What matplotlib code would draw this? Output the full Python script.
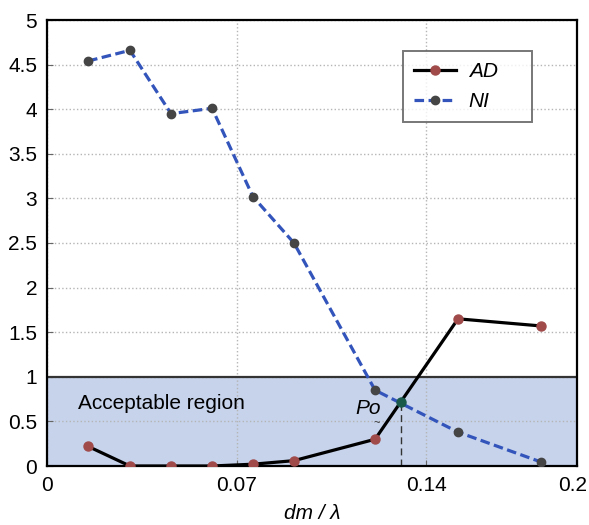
import matplotlib
matplotlib.use("Agg")
import matplotlib.pyplot as plt
import matplotlib.transforms as mtransforms

plt.rcParams['font.family'] = ['Liberation Sans', 'DejaVu Sans']

# data
x = [0.0155, 0.0313, 0.0468, 0.0623, 0.0777, 0.0932, 0.1238, 0.1551, 0.1864]
ad = [0.22, 0.0, 0.0, 0.0, 0.02, 0.06, 0.30, 1.65, 1.57]
ni = [4.54, 4.66, 3.95, 4.01, 3.02, 2.50, 0.85, 0.38, 0.045]
po_x, po_y = 0.1336, 0.72
# tick positions as they sit in the reference (its axis is not evenly spaced)
xticks = [0, 0.0717, 0.1432, 0.2]
xticklabels = ['0', '0.07', '0.14', '0.2']
yticks = [0, 0.5, 1, 1.5, 2, 2.5, 3, 3.5, 4, 4.5, 5]
yticklabels = ['0', '0.5', '1', '1.5', '2', '2.5', '3', '3.5', '4', '4.5', '5']

fig = plt.figure(figsize=(5.89, 5.25), dpi=100)
ax = fig.add_axes([47 / 589, 1 - 466 / 525, 530 / 589, 446 / 525])

# acceptable region band
ax.axhspan(0, 1, facecolor='#c6d3eb', edgecolor='none', zorder=0)
ax.axhline(1, color='#333333', lw=1.6, zorder=1)

ax.grid(True, color='#b5b5b5', linestyle=':', lw=1, zorder=0.5)
ax.set_axisbelow(True)

ax.plot(x, ad, color='black', lw=2.3, marker='o', ms=6.5,
        mfc='#a04a4a', mec='#a04a4a', label='AD', zorder=3)
ax.plot(x, ni, color='#3355bb', lw=2.3, ls=(0, (3, 1.4)), marker='o', ms=6,
        mfc='#454545', mec='#454545', label='NI', zorder=3)

ax.plot([po_x, po_x], [0, po_y], color='#333333', lw=1, ls=(0, (5, 3)), zorder=2)
ax.plot(po_x, po_y, 'o', color='#1a5a4a', ms=6.5, zorder=4)
ax.text(0.1211, 0.64, 'Po', fontsize=15, style='italic', ha='center', va='center')
ax.text(0.1245, 0.485, '~', fontsize=8, ha='center', va='center', color='#333333')
ax.text(0.0118, 0.70, 'Acceptable region', fontsize=15, ha='left', va='center')

ax.set_xlim(0, 0.2)
ax.set_ylim(0, 5)
ax.set_xticks(xticks)
ax.set_xticklabels(xticklabels)
ax.set_yticks(yticks)
ax.set_yticklabels(yticklabels)
ax.tick_params(labelsize=15, direction='in', length=4, color='#666666')
ax.tick_params(axis='x', pad=7)
ax.tick_params(axis='y', pad=7)
for s in ax.spines.values():
    s.set_linewidth(1.6)

# the last x label sits a little inside the right edge
shift = mtransforms.ScaledTranslation(-4 / 100, 0, fig.dpi_scale_trans)
last = ax.get_xticklabels()[-1]
last.set_transform(last.get_transform() + shift)

ax.set_xlabel('dm / λ', fontsize=15, style='italic', labelpad=7)

leg = ax.legend(loc='upper left', bbox_to_anchor=(0.6717, 0.0, 0.2434, 0.9305),
                mode='expand', fontsize=15,
                frameon=True, fancybox=False, edgecolor='#555555',
                handlelength=2.0, handletextpad=0.6, borderpad=0.55,
                labelspacing=0.5, borderaxespad=0)
for t in leg.get_texts():
    t.set_style('italic')
leg.get_frame().set_linewidth(1.4)

fig.savefig('out.png', dpi=100)
